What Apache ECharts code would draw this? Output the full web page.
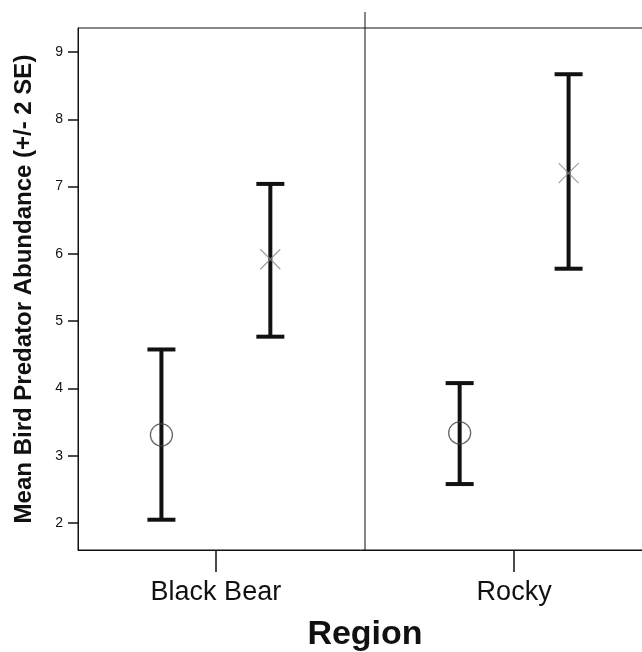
<!DOCTYPE html>
<html>
<head>
<meta charset="utf-8">
<script src="https://cdn.jsdelivr.net/npm/echarts@6/dist/echarts.min.js"></script>
<style>
  html, body { margin: 0; padding: 0; background: #fff; }
  #chart { width: 642px; height: 652px; }
</style>
</head>
<body>
<div id="chart"></div>
<script>
// Regions on the x axis
const regions = ['Black Bear', 'Rocky'];
// Group drawn with open circles: mean and +/- 2 SE limits
const circleMean = [3.31, 3.34];
const circleLow = [2.05, 2.58];
const circleHigh = [4.58, 4.08];
// Group drawn with crosses: mean and +/- 2 SE limits
const crossMean = [5.92, 7.20];
const crossLow = [4.77, 5.78];
const crossHigh = [7.04, 8.67];
// Y axis tick values
const yTicks = [2, 3, 4, 5, 6, 7, 8, 9];
// Boundary between region panels
const dividers = [0.5];

const GROUP_OFFSET = 0.1826;
const FONT = 'Liberation Sans, Arial, Helvetica, sans-serif';

const circlePos = regions.map((_, i) => i - GROUP_OFFSET);
const crossPos = regions.map((_, i) => i + GROUP_OFFSET);

function errorBarItem(params, api) {
  const x = api.value(0);
  const lo = api.coord([x, api.value(1)]);
  const hi = api.coord([x, api.value(2)]);
  const half = 14;
  const style = { stroke: '#111', lineWidth: 4 };
  return {
    type: 'group',
    children: [
      { type: 'line', shape: { x1: lo[0], y1: lo[1], x2: hi[0], y2: hi[1] }, style },
      { type: 'line', shape: { x1: lo[0] - half, y1: lo[1], x2: lo[0] + half, y2: lo[1] }, style },
      { type: 'line', shape: { x1: hi[0] - half, y1: hi[1], x2: hi[0] + half, y2: hi[1] }, style }
    ]
  };
}

const chart = echarts.init(document.getElementById('chart'), null, { renderer: 'canvas' });
const yMin = 1.6, yMax = 9.357;

chart.setOption({
  animation: false,
  backgroundColor: '#fff',
  grid: {
    left: 78, top: 28, width: 574, height: 522,
    outerBoundsMode: 'none',
    containLabel: false,
    show: true, borderColor: '#111', borderWidth: 1, backgroundColor: 'transparent'
  },
  xAxis: {
    type: 'value',
    min: -0.4623, max: 1.4623,
    name: 'Region',
    nameLocation: 'middle',
    nameGap: 68,
    nameTextStyle: { fontFamily: FONT, fontSize: 34, fontWeight: 'bold', color: '#111' },
    axisLine: { show: true, onZero: false, lineStyle: { color: '#111', width: 1 } },
    axisTick: { show: true, length: 22, customValues: [0, 1], lineStyle: { color: '#111', width: 1.5 } },
    axisLabel: {
      customValues: [0, 1],
      margin: 29,
      fontFamily: FONT, fontSize: 27, color: '#111',
      formatter: v => regions[Math.round(v)]
    },
    splitLine: { show: false }
  },
  yAxis: {
    type: 'value',
    min: yMin, max: yMax,
    name: 'Mean Bird Predator Abundance (+/- 2 SE)',
    nameLocation: 'middle',
    nameRotate: 90,
    nameGap: 42,
    nameTextStyle: { fontFamily: FONT, fontSize: 24, fontWeight: 'bold', color: '#111' },
    axisLine: { show: true, onZero: false, lineStyle: { color: '#111', width: 1 } },
    axisTick: { show: true, length: 10, customValues: yTicks, lineStyle: { color: '#111', width: 1.5 } },
    axisLabel: { customValues: yTicks, margin: 15, fontFamily: FONT, fontSize: 14, color: '#111' },
    splitLine: { show: false }
  },
  series: [
    {
      // Panel divider, running slightly above the plot frame
      type: 'custom',
      silent: true,
      data: dividers.map(d => [d]),
      renderItem: (params, api) => {
        const b = api.coord([api.value(0), yMin]);
        const t = api.coord([api.value(0), yMax]);
        return { type: 'line', shape: { x1: b[0], y1: b[1], x2: t[0], y2: t[1] - 16 }, style: { stroke: '#111', lineWidth: 1 } };
      },
      z: 1
    },
    {
      type: 'custom',
      renderItem: errorBarItem,
      data: regions.map((_, i) => [circlePos[i], circleLow[i], circleHigh[i]]),
      z: 3
    },
    {
      type: 'custom',
      renderItem: errorBarItem,
      data: regions.map((_, i) => [crossPos[i], crossLow[i], crossHigh[i]]),
      z: 3
    },
    {
      type: 'scatter',
      symbol: 'circle',
      symbolSize: 22,
      itemStyle: { color: 'rgba(0,0,0,0)', borderColor: '#444', borderWidth: 1.3 },
      data: regions.map((_, i) => [circlePos[i], circleMean[i]]),
      z: 4
    },
    {
      type: 'scatter',
      symbol: 'path://M0,0L20,20M20,0L0,20',
      symbolSize: 20,
      itemStyle: { color: 'rgba(0,0,0,0)', borderColor: '#888', borderWidth: 1.2 },
      data: regions.map((_, i) => [crossPos[i], crossMean[i]]),
      z: 4
    }
  ]
});
</script>
</body>
</html>
